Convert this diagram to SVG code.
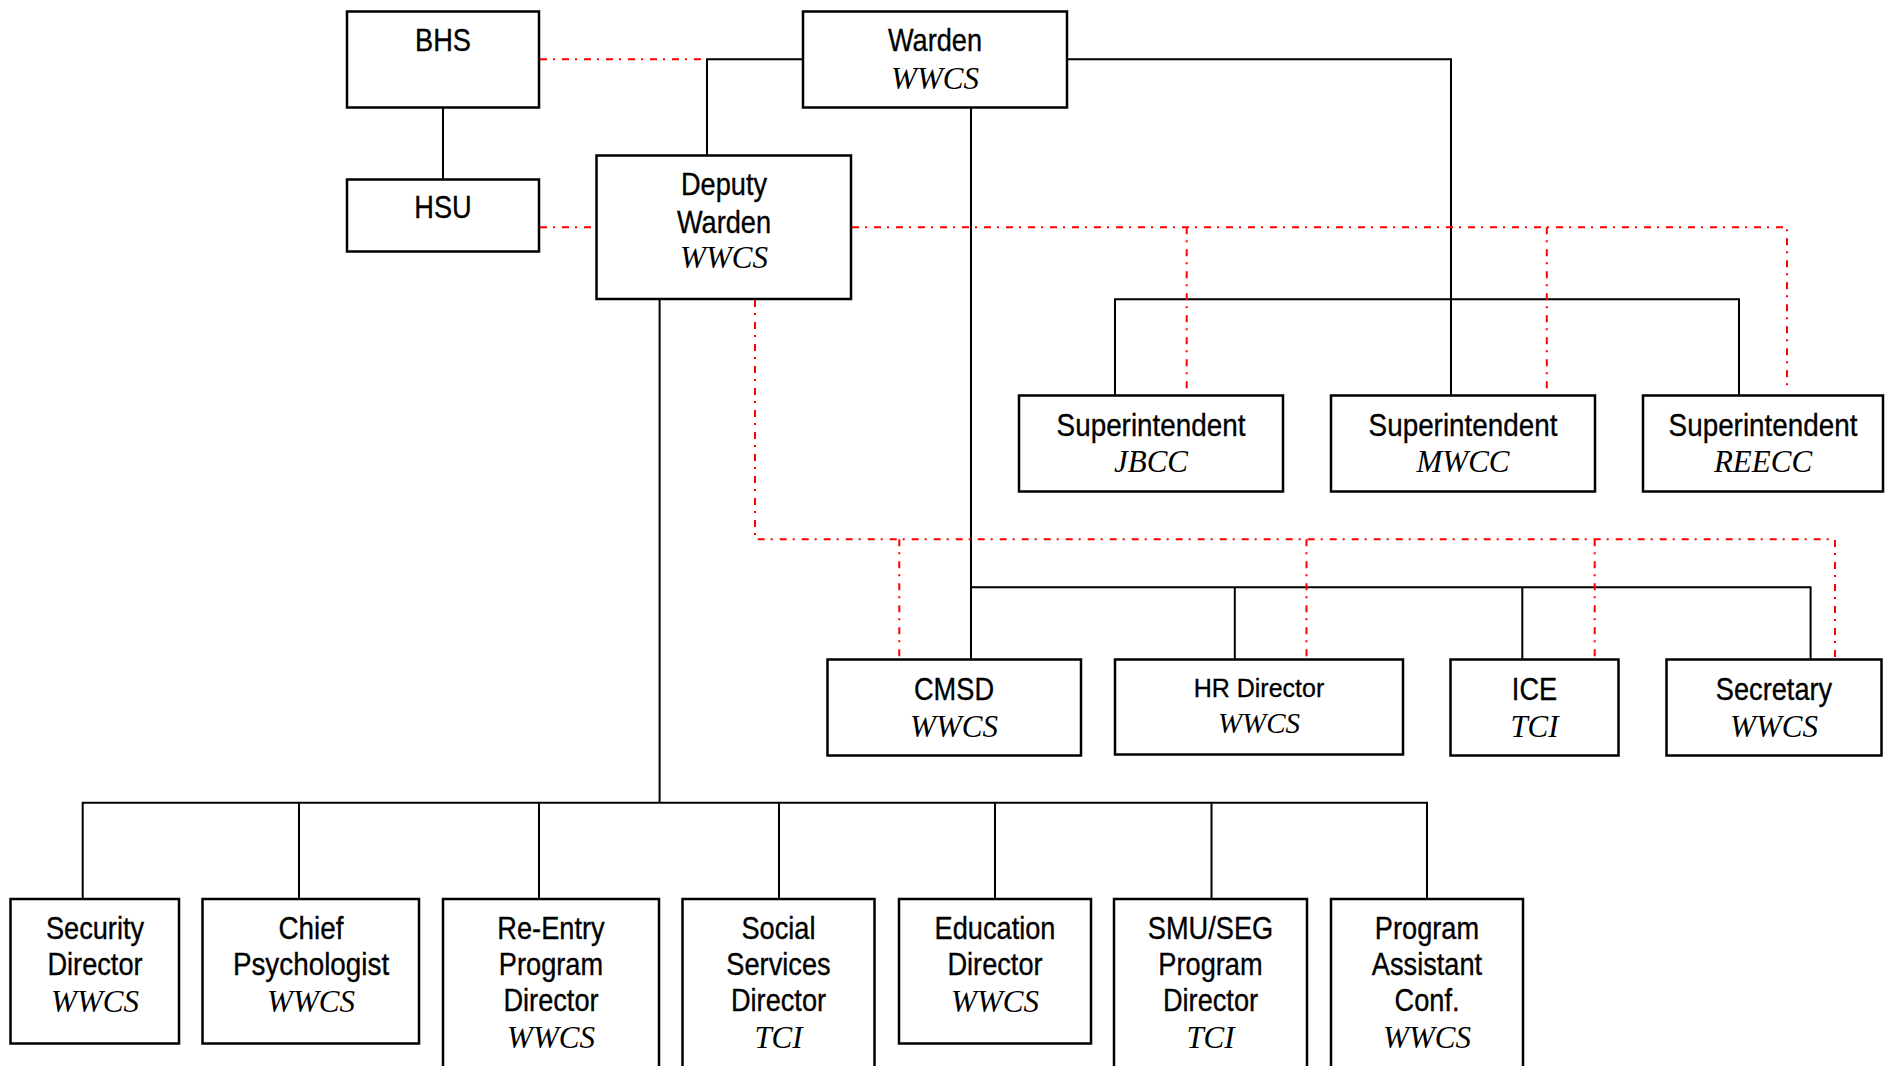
<svg xmlns="http://www.w3.org/2000/svg" width="1889" height="1066" viewBox="0 0 1889 1066">
<style>
.bg{fill:#fff}
.box{fill:#fff;stroke:#000;stroke-width:2.5}
.t{font-family:"Liberation Sans",Arial,sans-serif;font-size:32px;text-anchor:middle;fill:#000;stroke:#000;stroke-width:0.35}
.s{font-family:"Liberation Sans",Arial,sans-serif;font-size:25px;text-anchor:middle;fill:#000;stroke:#000;stroke-width:0.3}
.i{font-family:"Liberation Serif","Times New Roman",serif;font-style:italic;font-size:31px;text-anchor:middle;fill:#000}
.ln{stroke:#000;stroke-width:2;fill:none}
.rd{stroke:#f00;stroke-width:2;fill:none;stroke-dasharray:7 6 2 7}
</style>
<rect class="bg" x="0" y="0" width="1889" height="1066"/>
<g id="connectors">
  <g id="solid">
    <polyline class="ln" points="443,107.5 443,179.5"/>
    <polyline class="ln" points="803,59.3 707,59.3 707,155.5"/>
    <polyline class="ln" points="1067,59.3 1451,59.3 1451,395.5"/>
    <polyline class="ln" points="1115,395.5 1115,299.3 1739,299.3 1739,395.5"/>
    <polyline class="ln" points="971,107.5 971,659.5"/>
    <polyline class="ln" points="971,587.3 1810.6,587.3 1810.6,659.5"/>
    <line class="ln" x1="1234.8" y1="587.3" x2="1234.8" y2="659.5"/>
    <line class="ln" x1="1522.3" y1="587.3" x2="1522.3" y2="659.5"/>
    <polyline class="ln" points="659.6,299 659.6,802.7"/>
    <polyline class="ln" points="82.7,899 82.7,802.7 1427,802.7 1427,899"/>
    <line class="ln" x1="299" y1="802.7" x2="299" y2="899"/>
    <line class="ln" x1="539" y1="802.7" x2="539" y2="899"/>
    <line class="ln" x1="779" y1="802.7" x2="779" y2="899"/>
    <line class="ln" x1="995" y1="802.7" x2="995" y2="899"/>
    <line class="ln" x1="1211.5" y1="802.7" x2="1211.5" y2="899"/>
  </g>
  <g id="dashed">
    <line class="rd" x1="540" y1="59.3" x2="705" y2="59.3"/>
    <line class="rd" x1="540" y1="227.3" x2="595" y2="227.3"/>
    <polyline class="rd" points="852,227.3 1787,227.3 1787,390"/>
    <line class="rd" x1="1186.7" y1="227.3" x2="1186.7" y2="390"/>
    <line class="rd" x1="1546.8" y1="227.3" x2="1546.8" y2="390"/>
    <polyline class="rd" points="755,300 755,539.3 1835,539.3 1835,657"/>
    <line class="rd" x1="899.3" y1="539.3" x2="899.3" y2="657"/>
    <line class="rd" x1="1306.5" y1="539.3" x2="1306.5" y2="657"/>
    <line class="rd" x1="1594.7" y1="539.3" x2="1594.7" y2="657"/>
  </g>
</g>
<g id="bhs"><rect class="box" x="347" y="11.5" width="192" height="96"/>
  <text class="t" transform="translate(443 0) scale(0.85 1)" x="0" y="50.7">BHS</text></g>
<g id="hsu"><rect class="box" x="347" y="179.5" width="192" height="72"/>
  <text class="t" transform="translate(443 0) scale(0.85 1)" x="0" y="218.5">HSU</text></g>
<g id="warden"><rect class="box" x="803" y="11.5" width="264" height="96"/>
  <text class="t" transform="translate(935 0) scale(0.85 1)" x="0" y="51.5">Warden</text>
  <text class="i" x="935" y="89">WWCS</text></g>
<g id="deputy"><rect class="box" x="596.5" y="155.5" width="254.5" height="143.5"/>
  <text class="t" transform="translate(724 0) scale(0.85 1)"><tspan x="0" y="195">Deputy</tspan><tspan x="0" y="233">Warden</tspan></text>
  <text class="i" x="724" y="268">WWCS</text></g>
<g id="sup-jbcc"><rect class="box" x="1019" y="395.5" width="264" height="96"/>
  <text class="t" transform="translate(1151 0) scale(0.87 1)" x="0" y="436">Superintendent</text>
  <text class="i" x="1151" y="472">JBCC</text></g>
<g id="sup-mwcc"><rect class="box" x="1331" y="395.5" width="264" height="96"/>
  <text class="t" transform="translate(1463 0) scale(0.87 1)" x="0" y="436">Superintendent</text>
  <text class="i" x="1463" y="472">MWCC</text></g>
<g id="sup-reecc"><rect class="box" x="1643" y="395.5" width="240" height="96"/>
  <text class="t" transform="translate(1763 0) scale(0.87 1)" x="0" y="436">Superintendent</text>
  <text class="i" x="1763" y="472">REECC</text></g>
<g id="cmsd"><rect class="box" x="827.5" y="659.5" width="253.5" height="96"/>
  <text class="t" transform="translate(954 0) scale(0.85 1)" x="0" y="700">CMSD</text>
  <text class="i" x="954" y="736.5">WWCS</text></g>
<g id="hr"><rect class="box" x="1115" y="659.5" width="288" height="95"/>
  <text class="s" x="1259" y="697">HR Director</text>
  <text class="i" x="1259" y="733" style="font-size:29px">WWCS</text></g>
<g id="ice"><rect class="box" x="1450.5" y="659.5" width="168" height="96"/>
  <text class="t" transform="translate(1534.5 0) scale(0.85 1)" x="0" y="700">ICE</text>
  <text class="i" x="1534.5" y="736.5">TCI</text></g>
<g id="secretary"><rect class="box" x="1666.5" y="659.5" width="215" height="96"/>
  <text class="t" transform="translate(1774 0) scale(0.85 1)" x="0" y="700">Secretary</text>
  <text class="i" x="1774" y="736.5">WWCS</text></g>
<g id="security"><rect class="box" x="10.5" y="899" width="168.5" height="144.5"/>
  <text class="t" transform="translate(95 0) scale(0.85 1)"><tspan x="0" y="939">Security</tspan><tspan x="0" y="975.5">Director</tspan></text>
  <text class="i" x="95" y="1011.5">WWCS</text></g>
<g id="psych"><rect class="box" x="202.5" y="899" width="216.5" height="144.5"/>
  <text class="t" transform="translate(311 0) scale(0.87 1)"><tspan x="0" y="939">Chief</tspan><tspan x="0" y="975.5">Psychologist</tspan></text>
  <text class="i" x="311" y="1011.5">WWCS</text></g>
<g id="reentry"><rect class="box" x="443" y="899" width="216" height="200"/>
  <text class="t" transform="translate(551 0) scale(0.85 1)"><tspan x="0" y="939">Re-Entry</tspan><tspan x="0" y="975.5">Program</tspan><tspan x="0" y="1011.5">Director</tspan></text>
  <text class="i" x="551" y="1047.5">WWCS</text></g>
<g id="social"><rect class="box" x="682.5" y="899" width="192" height="200"/>
  <text class="t" transform="translate(778.5 0) scale(0.85 1)"><tspan x="0" y="939">Social</tspan><tspan x="0" y="975.5">Services</tspan><tspan x="0" y="1011.5">Director</tspan></text>
  <text class="i" x="778.5" y="1047.5">TCI</text></g>
<g id="education"><rect class="box" x="899" y="899" width="192" height="144.5"/>
  <text class="t" transform="translate(995 0) scale(0.85 1)"><tspan x="0" y="939">Education</tspan><tspan x="0" y="975.5">Director</tspan></text>
  <text class="i" x="995" y="1011.5">WWCS</text></g>
<g id="smuseg"><rect class="box" x="1114" y="899" width="193" height="200"/>
  <text class="t" transform="translate(1210.5 0) scale(0.85 1)"><tspan x="0" y="939">SMU/SEG</tspan><tspan x="0" y="975.5">Program</tspan><tspan x="0" y="1011.5">Director</tspan></text>
  <text class="i" x="1210.5" y="1047.5">TCI</text></g>
<g id="progassist"><rect class="box" x="1331" y="899" width="192" height="200"/>
  <text class="t" transform="translate(1427 0) scale(0.85 1)"><tspan x="0" y="939">Program</tspan><tspan x="0" y="975.5">Assistant</tspan><tspan x="0" y="1011.5">Conf.</tspan></text>
  <text class="i" x="1427" y="1047.5">WWCS</text></g>
</svg>
